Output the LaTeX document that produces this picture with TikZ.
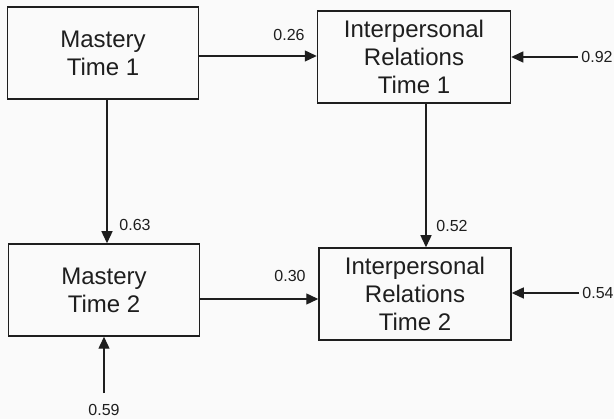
\documentclass[tikz,border=0pt]{standalone}
\usepackage{fontspec}
\setmainfont{Liberation Sans}
\usetikzlibrary{arrows.meta}
\definecolor{semink}{HTML}{1E1E1E}
\definecolor{sempaper}{HTML}{FAFAFA}
\tikzset{
  var/.style={rectangle, draw=semink, line width=1.5pt, fill=sempaper, align=center,
              text=semink, font=\fontsize{24}{28}\selectfont, inner sep=0pt,
              minimum width=#1, minimum height=92pt},
  link/.style={-{Triangle[length=12pt,width=11pt]}, line width=1.4pt, draw=semink},
  coef/.style={font=\fontsize{16}{18}\selectfont, text=semink, inner sep=3pt},
}
\begin{document}
\begin{tikzpicture}[x=1pt, y=-1pt]
  \fill[sempaper] (0,0) rectangle (614,419);
  \useasboundingbox (0,0) rectangle (614,419);
  \node[var=191pt] (m1) at (103,53) {Mastery\\Time 1};
  \node[var=193pt] (ir1) at (414,57) {Interpersonal\\Relations\\Time 1};
  \node[var=191pt] (m2) at (104,290) {Mastery\\Time 2};
  \node[var=192pt] (ir2) at (415,294) {Interpersonal\\Relations\\Time 2};
  % residuals
  \node[coef] (e1) at (597,57) {0.92};
  \node[coef] (e2) at (598,293) {0.54};
  \node[coef] (e3) at (104,410) {0.59};
  \draw[link] (e1) -- (ir1);
  \draw[link] (e2) -- (ir2.east |- e2);
  \draw[link] ([yshift=8pt]e3.north) -- (m2.south);
  % paths
  \draw[link] ([yshift=-3pt]m1.east) -- ([yshift=-3pt]m1.east -| ir1.west);
  \draw[link] ([xshift=4pt]m1.south) -- ([xshift=4pt]m1.south |- m2.north);
  \draw[link] ([xshift=12pt]ir1.south) -- ([xshift=12pt]ir1.south |- ir2.north);
  \draw[link] ([yshift=-9pt]m2.east) -- ([yshift=-9pt]m2.east -| ir2.west);
  \foreach \n/\x/\y/\v in {c1/289/35/0.26, c2/135/225/0.63, c3/452/226/0.52, c4/290/276/0.30}{
    \node[coef] (\n) at (\x,\y) {\v};
  }
\end{tikzpicture}
\end{document}
